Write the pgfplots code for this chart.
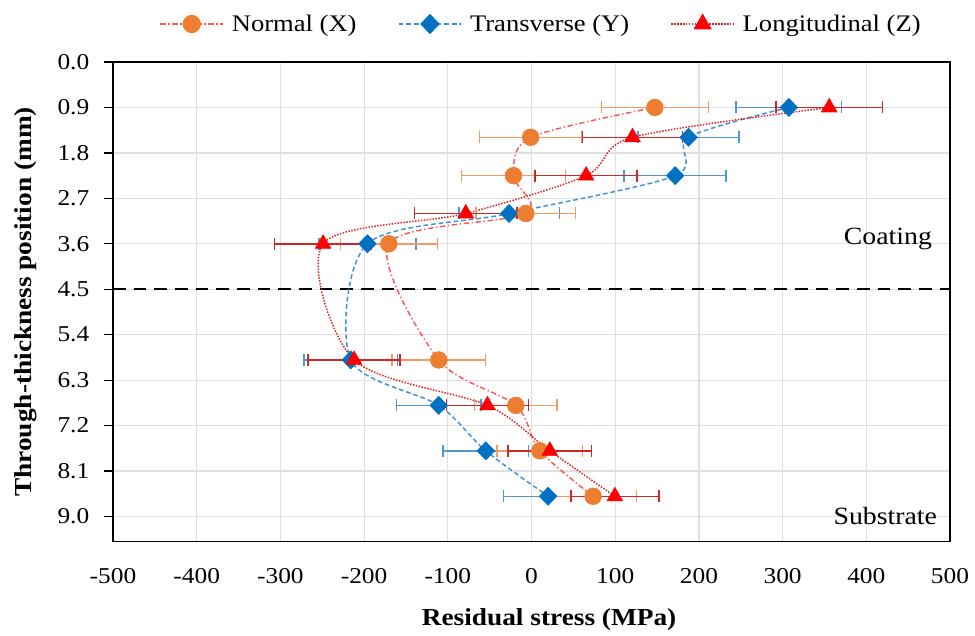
\documentclass[border=0pt]{standalone}
\usepackage{fontspec}
\setmainfont{Liberation Serif}[FakeStretch=1.12]
\usepackage{pgfplots}
\usepackage{pgfplotstable}
\pgfplotsset{compat=1.18}
\definecolor{morange}{RGB}{237,125,49}
\definecolor{eorange}{RGB}{244,155,95}
\definecolor{mblue}{RGB}{0,112,192}
\definecolor{eblue}{RGB}{80,150,215}
\definecolor{lblue}{RGB}{60,145,220}
\definecolor{mred}{RGB}{255,0,0}
\definecolor{ered}{RGB}{205,40,40}
\definecolor{lred}{RGB}{225,30,30}
\definecolor{lpink}{RGB}{255,85,85}

\pgfplotstableread{
x y e
147.4 0.9 64
-1 1.49 61
-21.5 2.25 62
-6.8 3.0 59.5
-170.5 3.6 58
-110.8 5.9 56
-18.8 6.8 49
9.9 7.7 51
73.6 8.6 52
}\normaldata

\pgfplotstableread{
x y e
307.5 0.9 63
187.6 1.49 60.5
171.6 2.25 61
-26.8 3.0 60
-196 3.6 58
-216 5.9 56
-110.8 6.8 50.5
-54.6 7.7 51
19.8 8.6 53
}\transdata

\pgfplotstableread{
x y e
355.7 0.9 63.5
120.7 1.49 60
65.3 2.25 61
-78.5 3.0 61
-249 3.6 58
-212 5.9 55
-52.6 6.8 49
21.9 7.7 50
99.6 8.6 52.5
}\longdata

\newcommand{\fs}{\fontsize{17}{20}\selectfont}
\newcommand{\fl}{\fontsize{18.3}{21}\selectfont}
\newcommand{\fg}{\fontsize{17.8}{21}\selectfont}
\newcommand{\fa}{\fontsize{18.6}{21}\selectfont}

\begin{document}
\begin{tikzpicture}
\begin{axis}[
  scale only axis,
  width=627.75pt, height=359.8pt,
  xmin=-500, xmax=500, ymin=0, ymax=9.5,
  y dir=reverse,
  xtick={-500,-400,...,500},
  ytick={0,0.9,1.8,2.7,3.6,4.5,5.4,6.3,7.2,8.1,9.0},
  tick label style={font=\fs},
  yticklabel style={xshift=-7.5pt, /pgf/number format/.cd, fixed, fixed zerofill, precision=1},
  xticklabel style={yshift=-10pt},
  /pgf/number format/assume math mode=true,
  grid=major,
  major grid style={color=black!12, line width=0.9pt},
  axis line style={black, line width=1pt},
  xtick style={draw=none},
  ytick style={black, line width=0.9pt},
  ytick pos=left,
  tick align=outside,
  major tick length=6.75pt,
  xlabel={Residual stress (MPa)},
  ylabel={Through-thickness position (mm)},
  label style={font=\bfseries\fl},
  xlabel style={at={(axis description cs:0.521,-0.163)}, anchor=center},
  ylabel style={at={(axis description cs:-0.104,0.5)}, anchor=center},
  legend style={at={(axis description cs:0.5,1)}, anchor=center, yshift=28.5pt, xshift=7.5pt,
    draw=none, fill=none, font=\fg, legend columns=3,
    /tikz/every even column/.append style={column sep=29pt},
    /tikz/every odd column/.append style={column sep=4pt}},
  legend image code/.code={\draw[mark repeat=2,mark phase=2] plot coordinates {(0pt,0pt)(23.5pt,0pt)(47pt,0pt)};},
]
% legend entries
\addlegendimage{lpink, line width=1.1pt, dash pattern=on 4pt off 2pt on 1pt off 2pt, mark=*, mark size=6.3pt, mark options={solid, fill=morange, draw=morange}}
\addlegendentry{Normal (X)}
\addlegendimage{lblue, line width=1.1pt, dash pattern=on 3.5pt off 2.2pt, mark=diamond*, mark size=6.8pt, mark options={solid, fill=mblue, draw=mblue, xscale=1.3}}
\addlegendentry{Transverse (Y)}
\addlegendimage{lred, line width=1.1pt, dash pattern=on 1.1pt off 1.1pt, mark=triangle*, mark size=6.8pt, mark options={solid, fill=mred, draw=mred}}
\addlegendentry{Longitudinal (Z)}

% boundary line
\addplot[black, line width=1.75pt, dash pattern=on 9.5pt off 6pt, forget plot] coordinates {(-500,4.5) (500,4.5)};

% smoothed lines
\addplot[lpink, line width=1.1pt, dash pattern=on 4pt off 2pt on 1pt off 2pt, smooth, no marks, forget plot] table[x=x,y=y] {\normaldata};
\addplot[lblue, line width=1.1pt, dash pattern=on 3.5pt off 2.2pt, smooth, no marks, forget plot] table[x=x,y=y] {\transdata};
\addplot[lred, line width=1.1pt, dash pattern=on 1.1pt off 1.1pt, smooth, no marks, forget plot] table[x=x,y=y] {\longdata};

% markers with error bars
\addplot[only marks, mark=diamond*, mark size=6.8pt, mark options={fill=mblue, draw=mblue, xscale=1.3}, forget plot,
  error bars/.cd, x dir=both, x explicit,
  error bar style={color=eblue, line width=1.1pt, solid},
  error mark=|,
  error mark options={color=eblue, line width=1.1pt, mark size=4.5pt, solid, rotate=0}]
  table[x=x,y=y,x error=e] {\transdata};
\addplot[only marks, mark=*, mark size=6.3pt, mark options={fill=morange, draw=morange}, forget plot,
  error bars/.cd, x dir=both, x explicit,
  error bar style={color=eorange, line width=1.1pt, solid},
  error mark=|,
  error mark options={color=eorange, line width=1.1pt, mark size=4.5pt, solid, rotate=0}]
  table[x=x,y=y,x error=e] {\normaldata};
\addplot[only marks, mark=triangle*, mark size=6.8pt, mark options={fill=mred, draw=mred}, forget plot,
  error bars/.cd, x dir=both, x explicit,
  error bar style={color=ered, line width=1.1pt, solid},
  error mark=|,
  error mark options={color=ered, line width=1.1pt, mark size=4.5pt, solid, rotate=0}]
  table[x=x,y=y,x error=e] {\longdata};

\node[anchor=east, font=\fa] at (axis cs:484,3.5) {Coating};
\node[anchor=east, font=\fa] at (axis cs:490,9.0) {Substrate};
\end{axis}
\pgfresetboundingbox
\path[use as bounding box] ([xshift=-84.75pt,yshift=-70pt]current axis.south west) rectangle ([xshift=18.75pt,yshift=46.5pt]current axis.north east);
\end{tikzpicture}
\end{document}
